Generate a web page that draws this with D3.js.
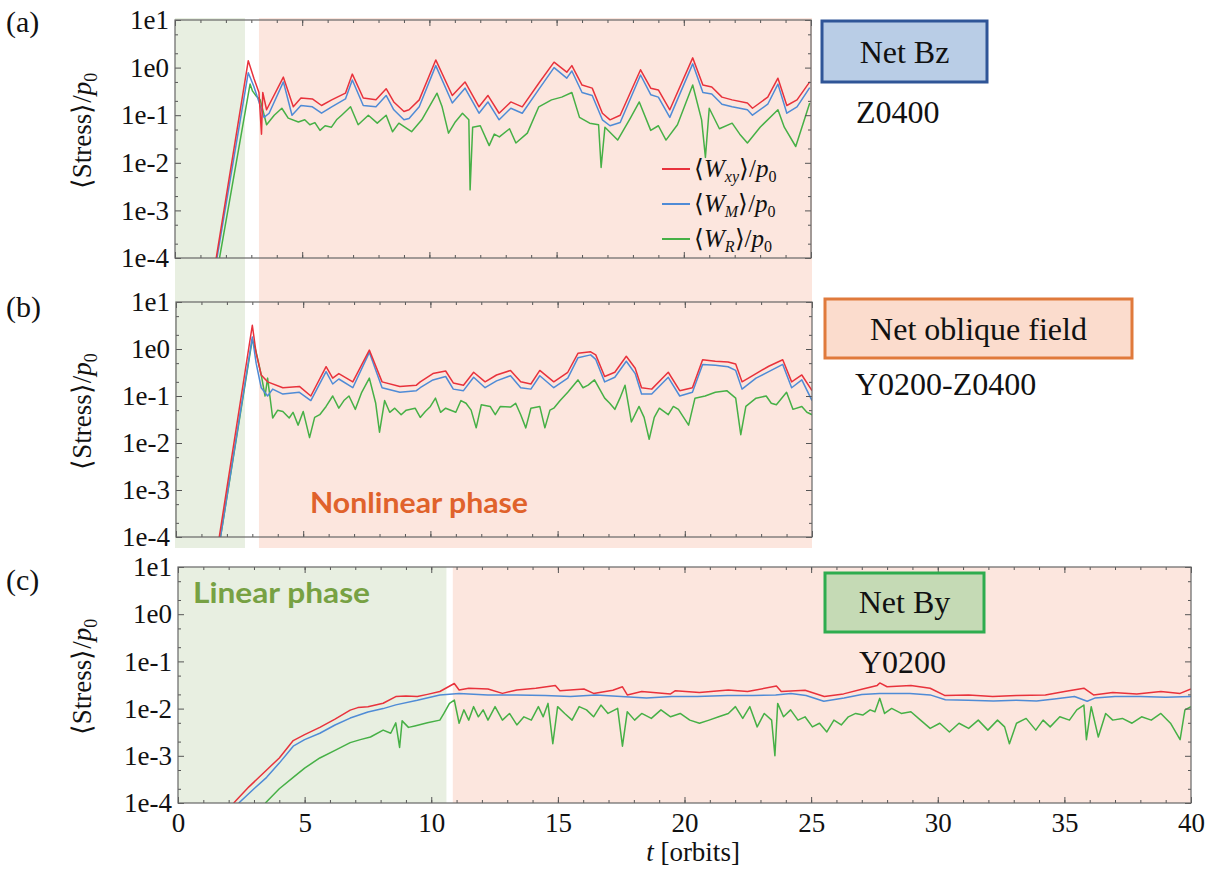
<!DOCTYPE html>
<html>
<head>
<meta charset="utf-8">
<script src="https://cdn.jsdelivr.net/npm/d3@7"></script>
<style>
body { margin: 0; background: #fff; }
svg { display: block; }
</style>
</head>
<body>
<div id="chart_root"></div>
<script>
// ---- data: [t (orbits), stress / p0] ----
const wxyA = [[1.62,1e-4],[2.88,1.4],[3.1,0.6],[3.3,0.3],[3.4,0.04],[3.45,0.3],[3.6,0.13],[4.26,0.63],[4.65,0.15],[4.95,0.23],[5.4,0.22],[5.76,0.16],[6.16,0.21],[6.7,0.29],[6.97,0.73],[7.4,0.23],[7.9,0.21],[8.3,0.36],[8.6,0.19],[9.0,0.12],[9.2,0.13],[9.6,0.21],[10.25,1.45],[10.9,0.26],[11.4,0.5],[11.95,0.15],[12.3,0.26],[12.74,0.11],[13.2,0.19],[13.65,0.15],[14.3,0.47],[14.9,1.3],[15.4,0.8],[15.6,1.1],[16.0,0.43],[16.4,0.37],[16.8,0.11],[17.1,0.08],[17.5,0.1],[18.3,0.9],[18.7,0.37],[19.0,0.34],[19.45,0.13],[20.35,1.6],[20.75,0.43],[21.1,0.39],[21.5,0.24],[21.9,0.21],[22.5,0.18],[22.7,0.14],[23.3,0.24],[23.7,0.6],[24.05,0.16],[24.45,0.21],[24.95,0.5]];
const wmA = [[1.65,1e-4],[2.88,0.78],[3.1,0.4],[3.5,0.09],[3.7,0.11],[4.26,0.5],[4.6,0.1],[4.95,0.16],[5.4,0.15],[5.76,0.11],[6.16,0.15],[6.7,0.22],[6.97,0.55],[7.4,0.16],[7.9,0.15],[8.3,0.26],[8.6,0.13],[9.0,0.08],[9.2,0.085],[9.6,0.15],[10.25,1.1],[10.9,0.18],[11.4,0.37],[11.95,0.11],[12.3,0.19],[12.74,0.08],[13.2,0.14],[13.65,0.11],[14.3,0.35],[14.9,1.0],[15.4,0.6],[15.6,0.85],[16.0,0.3],[16.4,0.26],[16.8,0.08],[17.1,0.06],[17.5,0.07],[18.3,0.7],[18.7,0.27],[19.0,0.24],[19.45,0.09],[20.35,1.2],[20.75,0.3],[21.1,0.28],[21.5,0.17],[21.9,0.15],[22.5,0.13],[22.7,0.1],[23.3,0.17],[23.7,0.45],[24.05,0.11],[24.45,0.15],[24.95,0.38]];
const wrA = [[1.75,1e-4],[2.95,0.45],[3.05,0.32],[3.2,0.25],[3.35,0.21],[3.6,0.063],[3.9,0.1],[4.2,0.14],[4.45,0.087],[4.85,0.072],[5.1,0.08],[5.3,0.063],[5.5,0.07],[5.7,0.048],[5.9,0.06],[6.15,0.056],[6.35,0.08],[6.55,0.1],[6.9,0.15],[7.2,0.063],[7.6,0.1],[7.95,0.068],[8.3,0.1],[8.55,0.045],[8.8,0.068],[9.3,0.045],[9.7,0.08],[10.3,0.29],[10.5,0.15],[10.75,0.042],[11.0,0.07],[11.3,0.11],[11.55,0.08],[11.6,0.0027],[11.7,0.056],[12.0,0.06],[12.35,0.023],[12.55,0.04],[12.75,0.035],[13.15,0.052],[13.4,0.026],[13.85,0.042],[14.3,0.15],[14.8,0.21],[15.2,0.24],[15.6,0.3],[15.9,0.09],[16.3,0.068],[16.65,0.063],[16.75,0.008],[16.9,0.056],[17.4,0.03],[17.9,0.087],[18.25,0.19],[18.7,0.048],[19.0,0.06],[19.3,0.03],[19.75,0.063],[20.35,0.43],[20.7,0.08],[20.85,0.013],[21.0,0.14],[21.4,0.052],[21.9,0.068],[22.2,0.04],[22.5,0.026],[23.0,0.056],[23.7,0.13],[23.95,0.056],[24.4,0.022],[24.95,0.18]];

const wxyB = [[1.7,1e-4],[3.0,3.2],[3.15,0.82],[3.35,0.28],[3.6,0.2],[4.2,0.15],[4.85,0.16],[5.3,0.1],[5.9,0.42],[6.16,0.24],[6.4,0.3],[6.95,0.2],[7.6,0.95],[8.1,0.2],[8.8,0.16],[9.45,0.17],[9.6,0.2],[10.1,0.3],[10.6,0.34],[10.9,0.19],[11.3,0.17],[11.7,0.32],[12.15,0.2],[12.6,0.28],[13.15,0.35],[13.55,0.2],[13.95,0.18],[14.3,0.35],[14.85,0.2],[15.4,0.32],[15.8,0.81],[16.3,0.87],[16.5,0.75],[16.85,0.26],[17.25,0.32],[17.7,0.7],[18.05,0.39],[18.3,0.15],[18.7,0.14],[19.35,0.32],[19.8,0.13],[20.3,0.15],[20.7,0.59],[21.2,0.55],[21.7,0.53],[22.0,0.48],[22.25,0.2],[22.8,0.3],[23.3,0.43],[23.85,0.59],[24.2,0.2],[24.6,0.28],[25.0,0.13]];
const wmB = [[1.75,1e-4],[3.0,1.8],[3.15,0.5],[3.35,0.15],[3.6,0.1],[3.8,0.14],[4.2,0.11],[4.85,0.12],[5.3,0.08],[5.9,0.33],[6.16,0.18],[6.4,0.23],[6.95,0.15],[7.6,0.85],[8.1,0.15],[8.8,0.12],[9.45,0.13],[9.6,0.15],[10.1,0.22],[10.6,0.26],[10.9,0.14],[11.3,0.13],[11.7,0.25],[12.15,0.15],[12.6,0.21],[13.15,0.27],[13.55,0.15],[13.95,0.14],[14.3,0.27],[14.85,0.15],[15.4,0.24],[15.8,0.65],[16.3,0.75],[16.5,0.6],[16.85,0.2],[17.25,0.25],[17.7,0.55],[18.05,0.3],[18.3,0.11],[18.7,0.11],[19.35,0.25],[19.8,0.1],[20.3,0.12],[20.7,0.47],[21.2,0.45],[21.7,0.42],[22.0,0.35],[22.25,0.14],[22.8,0.24],[23.3,0.33],[23.85,0.47],[24.2,0.15],[24.6,0.22],[25.0,0.08]];
const wrB = [[1.75,1e-4],[3.0,1.6],[3.15,0.87],[3.35,0.28],[3.5,0.1],[3.6,0.24],[3.8,0.034],[4.0,0.05],[4.2,0.047],[4.45,0.034],[4.6,0.045],[4.8,0.024],[5.0,0.047],[5.25,0.013],[5.45,0.035],[5.65,0.04],[5.9,0.06],[6.16,0.1],[6.4,0.055],[6.6,0.08],[6.8,0.1],[7.05,0.052],[7.3,0.12],[7.6,0.24],[7.85,0.07],[8.0,0.017],[8.2,0.08],[8.4,0.045],[8.6,0.055],[8.85,0.04],[9.05,0.05],[9.4,0.055],[9.6,0.035],[9.8,0.047],[10.0,0.06],[10.2,0.09],[10.4,0.045],[10.6,0.055],[11.0,0.045],[11.2,0.08],[11.4,0.07],[11.6,0.05],[11.8,0.021],[12.0,0.065],[12.35,0.06],[12.55,0.04],[12.75,0.06],[13.15,0.058],[13.35,0.07],[13.55,0.04],[13.75,0.021],[13.95,0.055],[14.3,0.06],[14.5,0.021],[14.7,0.05],[14.85,0.055],[15.1,0.08],[15.4,0.12],[15.8,0.22],[16.0,0.15],[16.2,0.17],[16.45,0.22],[16.85,0.09],[17.05,0.07],[17.25,0.052],[17.45,0.09],[17.65,0.17],[17.9,0.028],[18.2,0.06],[18.4,0.035],[18.6,0.012],[18.8,0.035],[19.0,0.055],[19.35,0.04],[19.55,0.06],[19.75,0.052],[20.15,0.024],[20.4,0.09],[20.8,0.1],[21.2,0.12],[21.65,0.13],[22.0,0.09],[22.2,0.015],[22.4,0.06],[22.8,0.09],[23.2,0.1],[23.4,0.07],[23.6,0.065],[24.0,0.12],[24.25,0.052],[24.6,0.06],[24.8,0.045],[25.0,0.04]];

const wxyC = [[2.2,1e-4],[2.8,2.2e-4],[3.5,5e-4],[4.0,9e-4],[4.55,0.0021],[5.0,0.0028],[5.6,0.004],[6.2,0.006],[6.8,0.0093],[7.1,0.0105],[7.5,0.011],[8.1,0.013],[8.6,0.018],[9.0,0.0185],[9.45,0.018],[9.85,0.02],[10.34,0.023],[10.91,0.034],[11.1,0.0248],[11.48,0.027],[12.24,0.026],[12.81,0.021],[13.38,0.0248],[14.13,0.027],[14.9,0.031],[15.08,0.024],[16.03,0.026],[16.41,0.021],[17.17,0.0245],[17.55,0.029],[17.74,0.0195],[18.31,0.023],[19.45,0.0205],[19.64,0.024],[20.59,0.022],[21.73,0.0248],[22.49,0.023],[23.63,0.03],[23.82,0.023],[24.76,0.0245],[25.52,0.018],[26.28,0.0205],[27.04,0.026],[27.61,0.031],[27.71,0.035],[28.0,0.029],[28.94,0.031],[29.7,0.027],[30.27,0.019],[31.22,0.0195],[32.17,0.018],[33.11,0.019],[34.25,0.0195],[35.01,0.023],[35.77,0.027],[36.15,0.0195],[36.91,0.022],[37.86,0.0205],[38.81,0.023],[39.57,0.021],[40.0,0.026]];
const wmC = [[2.4,1e-4],[3.0,2e-4],[3.5,3.5e-4],[4.0,7e-4],[4.55,0.0016],[5.0,0.0022],[5.6,0.003],[6.2,0.0045],[6.8,0.0063],[7.5,0.0085],[8.1,0.01],[8.6,0.012],[9.45,0.015],[10.34,0.0195],[11.1,0.021],[12.24,0.0195],[13.38,0.0195],[14.5,0.019],[15.5,0.018],[16.5,0.0195],[17.5,0.018],[18.5,0.0167],[19.5,0.018],[20.5,0.018],[21.7,0.019],[22.7,0.019],[23.6,0.0195],[24.2,0.021],[24.8,0.019],[25.5,0.0143],[26.3,0.0167],[27.0,0.02],[27.7,0.021],[28.9,0.021],[29.7,0.0195],[30.3,0.0154],[31.2,0.015],[32.2,0.0145],[33.1,0.015],[33.9,0.0145],[34.6,0.016],[35.4,0.018],[35.9,0.0143],[36.2,0.0167],[37.0,0.018],[38.0,0.018],[39.0,0.0175],[40.0,0.018]];
const wrC = [[3.45,1e-4],[4.0,2e-4],[4.55,3.5e-4],[5.0,5.5e-4],[5.6,9e-4],[6.2,0.0013],[6.8,0.0019],[7.2,0.0022],[7.6,0.0025],[8.1,0.0035],[8.4,0.003],[8.6,0.005],[8.75,0.0015],[8.85,0.0055],[9.1,0.004],[9.35,0.0043],[9.85,0.005],[10.34,0.0057],[10.5,0.0079],[10.72,0.0129],[10.91,0.0152],[11.1,0.0049],[11.29,0.0094],[11.48,0.0057],[11.67,0.011],[11.86,0.0067],[12.05,0.0094],[12.24,0.0057],[12.52,0.011],[12.81,0.0057],[13.09,0.0079],[13.38,0.0045],[13.66,0.0067],[13.95,0.0057],[14.23,0.011],[14.42,0.0067],[14.61,0.0129],[14.8,0.0018],[14.99,0.011],[15.27,0.0079],[15.56,0.0057],[15.84,0.011],[16.13,0.0094],[16.41,0.0067],[16.7,0.0119],[16.98,0.0079],[17.36,0.0101],[17.55,0.0016],[17.74,0.0086],[18.03,0.0057],[18.31,0.0079],[18.69,0.0062],[19.07,0.0094],[19.45,0.0067],[19.83,0.0079],[20.21,0.0057],[20.59,0.0049],[20.97,0.0057],[21.35,0.0067],[21.73,0.0079],[22.01,0.011],[22.3,0.0062],[22.58,0.011],[22.87,0.0041],[23.15,0.0079],[23.44,0.0057],[23.57,0.001],[23.68,0.0129],[23.91,0.0067],[24.19,0.0094],[24.48,0.0057],[24.76,0.0067],[25.05,0.0041],[25.33,0.0049],[25.62,0.0032],[25.9,0.0057],[26.19,0.0045],[26.47,0.0067],[26.76,0.0079],[27.04,0.0073],[27.33,0.0094],[27.52,0.0086],[27.71,0.0165],[27.9,0.0079],[28.18,0.0101],[28.56,0.0079],[28.94,0.0086],[29.32,0.0057],[29.7,0.0038],[30.08,0.0049],[30.46,0.0032],[30.84,0.0049],[31.22,0.0038],[31.6,0.0057],[31.98,0.0035],[32.36,0.0057],[32.64,0.0041],[32.83,0.0018],[33.11,0.0049],[33.49,0.0062],[33.87,0.0035],[34.16,0.0057],[34.44,0.0041],[34.82,0.0067],[35.2,0.0057],[35.49,0.0094],[35.77,0.0119],[35.87,0.0022],[36.06,0.011],[36.34,0.0025],[36.63,0.0079],[36.91,0.0057],[37.29,0.0062],[37.67,0.0049],[38.05,0.0067],[38.43,0.0057],[38.81,0.0079],[39.19,0.0049],[39.57,0.0022],[39.76,0.0094],[40.0,0.011]];

const yTicks = [1e-4, 1e-3, 1e-2, 1e-1, 1, 10];
const yTickLabels = ["1e-4", "1e-3", "1e-2", "1e-1", "1e0", "1e1"];
const xTicksC = [0, 5, 10, 15, 20, 25, 30, 35, 40];
const legendNames = ["xy", "M", "R"];
// linear phase ends / nonlinear phase starts (orbits)
const phaseAB = [2.75, 3.3];
const phaseC = [10.6, 10.85];

const colors = ["#e8323c", "#4f8bd6", "#46b046"];
const serif = "'Liberation Serif', 'Times New Roman', serif";
const sans = "Lato, 'Open Sans', sans-serif";

const svg = d3.select("#chart_root")
    .append("svg")
    .attr("width", 1221)
    .attr("height", 870)
    .style("background", "#fff");

const panels = [
    {left: 175, right: 811, top: 20, bottom: 258, tmax: 25, series: [wxyA, wmA, wrA], tag: "(a)", tagY: 32},
    {left: 176, right: 812, top: 302, bottom: 537, tmax: 25, series: [wxyB, wmB, wrB], tag: "(b)", tagY: 317},
    {left: 178, right: 1191, top: 567, bottom: 803, tmax: 40, series: [wxyC, wmC, wrC], tag: "(c)", tagY: 590}
];

panels.forEach(p => {
    p.x = d3.scaleLinear().domain([0, p.tmax]).range([p.left, p.right]);
    p.y = d3.scaleLog().domain([1e-4, 10]).range([p.bottom, p.top]);
});

// phase shading, panels (a) and (b) share one column
const pa = panels[0];
svg.append("rect")
    .attr("x", pa.x(0)).attr("y", 18)
    .attr("width", pa.x(phaseAB[0]) - pa.x(0)).attr("height", 530)
    .attr("fill", "#e8efe1");
svg.append("rect")
    .attr("x", pa.x(phaseAB[1])).attr("y", 18)
    .attr("width", pa.x(25) - pa.x(phaseAB[1]) + 1).attr("height", 530)
    .attr("fill", "#fce6de");
const pc = panels[2];
svg.append("rect")
    .attr("x", pc.x(0)).attr("y", pc.top)
    .attr("width", pc.x(phaseC[0]) - pc.x(0)).attr("height", pc.bottom - pc.top)
    .attr("fill", "#e8efe1");
svg.append("rect")
    .attr("x", pc.x(phaseC[1])).attr("y", pc.top)
    .attr("width", pc.x(40) - pc.x(phaseC[1])).attr("height", pc.bottom - pc.top)
    .attr("fill", "#fce6de");

const minorY = [];
yTicks.slice(0, -1).forEach(v => { minorY.push(v * 2, v * 5); });

panels.forEach((p, i) => {
    const g = svg.append("g");

    g.append("clipPath").attr("id", "clip" + i)
        .append("rect")
        .attr("x", p.left).attr("y", p.top)
        .attr("width", p.right - p.left).attr("height", p.bottom - p.top);

    const line = d3.line()
        .x(d => p.x(d[0]))
        .y(d => p.y(d[1]));

    // draw green, blue, red (red on top)
    [2, 1, 0].forEach(k => {
        g.append("path")
            .datum(p.series[k])
            .attr("clip-path", "url(#clip" + i + ")")
            .attr("fill", "none")
            .attr("stroke", colors[k])
            .attr("stroke-width", 1.5)
            .attr("stroke-linejoin", "round")
            .attr("d", line);
    });

    // axes with inward ticks
    const xMinor = d3.range(0, p.tmax + 1);
    const xMajor = d3.range(0, p.tmax + 1, 5);
    const axes = [
        [d3.axisBottom(p.x).tickValues(xMinor).tickSize(-3), p.bottom, "x"],
        [d3.axisTop(p.x).tickValues(xMinor).tickSize(-3), p.top, "x"],
        [d3.axisBottom(p.x).tickValues(xMajor).tickSize(-6), p.bottom, "x"],
        [d3.axisTop(p.x).tickValues(xMajor).tickSize(-6), p.top, "x"],
        [d3.axisLeft(p.y).tickValues(minorY).tickSize(-3), p.left, "y"],
        [d3.axisRight(p.y).tickValues(minorY).tickSize(-3), p.right, "y"],
        [d3.axisLeft(p.y).tickValues(yTicks).tickSize(-6), p.left, "y"],
        [d3.axisRight(p.y).tickValues(yTicks).tickSize(-6), p.right, "y"]
    ];
    axes.forEach(([ax, pos, dir]) => {
        const a = g.append("g")
            .attr("transform", dir === "x" ? "translate(0," + pos + ")" : "translate(" + pos + ",0)")
            .call(ax.tickFormat(""));
        a.select(".domain").remove();
        a.selectAll("line").attr("stroke", "#555");
    });

    // y tick labels
    const yl = g.append("g")
        .attr("transform", "translate(" + p.left + ",0)")
        .call(d3.axisLeft(p.y).tickValues(yTicks).tickSize(0).tickPadding(6)
            .tickFormat((d, j) => yTickLabels[j]));
    yl.select(".domain").remove();
    yl.attr("font-family", serif);
    yl.selectAll("text")
        .style("font-family", serif)
        .attr("font-size", 27)
        .attr("fill", "#111");

    // frame
    g.append("rect")
        .attr("x", p.left).attr("y", p.top)
        .attr("width", p.right - p.left).attr("height", p.bottom - p.top)
        .attr("fill", "none")
        .attr("stroke", "#666")
        .attr("stroke-width", 1.2);

    // y axis title
    const yt = g.append("text")
        .attr("transform", "translate(91," + ((p.top + p.bottom) / 2 - 8) + ") rotate(-90)")
        .attr("text-anchor", "middle")
        .style("font-family", serif)
        .attr("font-size", 27)
        .attr("fill", "#111");
    yt.append("tspan").text("\u27E8Stress\u27E9/");
    yt.append("tspan").attr("font-style", "italic").text("p");
    yt.append("tspan").attr("font-size", 18).attr("dy", 6).text("0");

    // panel tag
    g.append("text")
        .attr("x", 6).attr("y", p.tagY)
        .style("font-family", serif)
        .attr("font-size", 30)
        .attr("fill", "#111")
        .text(p.tag);
});

// x labels on panel (c)
const xl = svg.append("g")
    .attr("transform", "translate(0," + pc.bottom + ")")
    .call(d3.axisBottom(pc.x).tickValues(xTicksC).tickSize(0).tickPadding(10));
xl.select(".domain").remove();
xl.attr("font-family", serif);
xl.selectAll("text")
    .style("font-family", serif)
    .attr("font-size", 27)
    .attr("fill", "#111");

const xt = svg.append("text")
    .attr("x", 693).attr("y", 861)
    .attr("text-anchor", "middle")
    .style("font-family", serif)
    .attr("font-size", 27)
    .attr("fill", "#111");
xt.append("tspan").attr("font-style", "italic").text("t");
xt.append("tspan").text(" [orbits]");

// legend in panel (a)
legendNames.forEach((nm, k) => {
    const ly = 169 + k * 35;
    svg.append("line")
        .attr("x1", 662).attr("x2", 690)
        .attr("y1", ly).attr("y2", ly)
        .attr("stroke", colors[k])
        .attr("stroke-width", 2);
    const t = svg.append("text")
        .attr("x", 694).attr("y", ly + 8)
        .style("font-family", serif)
        .attr("font-size", 25)
        .attr("fill", "#111");
    t.append("tspan").text("\u27E8");
    t.append("tspan").attr("font-style", "italic").text("W");
    t.append("tspan").attr("font-style", "italic").attr("font-size", 16).attr("dy", 5).text(nm);
    t.append("tspan").attr("dy", -5).text("\u27E9/");
    t.append("tspan").attr("font-style", "italic").text("p");
    t.append("tspan").attr("font-size", 16).attr("dy", 5).text("0");
});

// phase labels
svg.append("text")
    .attr("x", 310).attr("y", 513)
    .style("font-family", sans)
    .attr("font-weight", "bold")
    .attr("font-size", 29)
    .attr("textLength", 218)
    .attr("lengthAdjust", "spacingAndGlyphs")
    .attr("fill", "#e0622b")
    .text("Nonlinear phase");
svg.append("text")
    .attr("x", 193).attr("y", 603)
    .style("font-family", sans)
    .attr("font-weight", "bold")
    .attr("font-size", 29)
    .attr("textLength", 177)
    .attr("lengthAdjust", "spacingAndGlyphs")
    .attr("fill", "#77a143")
    .text("Linear phase");

// run boxes
const boxes = [
    {x: 822, y: 21, w: 165, h: 61, fill: "#b9cde6", stroke: "#2f5597", text: "Net Bz", base: 63, run: "Z0400", runX: 856, runY: 123},
    {x: 825, y: 299, w: 307, h: 59, fill: "#fbdccd", stroke: "#e07a3c", text: "Net oblique field", base: 340, run: "Y0200-Z0400", runX: 855, runY: 395},
    {x: 825, y: 573, w: 159, h: 59, fill: "#c5dab5", stroke: "#2eac4e", text: "Net By", base: 613, run: "Y0200", runX: 859, runY: 673}
];
boxes.forEach(b => {
    svg.append("rect")
        .attr("x", b.x).attr("y", b.y)
        .attr("width", b.w).attr("height", b.h)
        .attr("fill", b.fill)
        .attr("stroke", b.stroke)
        .attr("stroke-width", 3);
    svg.append("text")
        .attr("x", b.x + b.w / 2).attr("y", b.base)
        .attr("text-anchor", "middle")
        .style("font-family", serif)
        .attr("font-size", 32)
        .attr("fill", "#111")
        .text(b.text);
    svg.append("text")
        .attr("x", b.runX).attr("y", b.runY)
        .style("font-family", serif)
        .attr("font-size", 32)
        .attr("fill", "#111")
        .text(b.run);
});
</script>
</body>
</html>
